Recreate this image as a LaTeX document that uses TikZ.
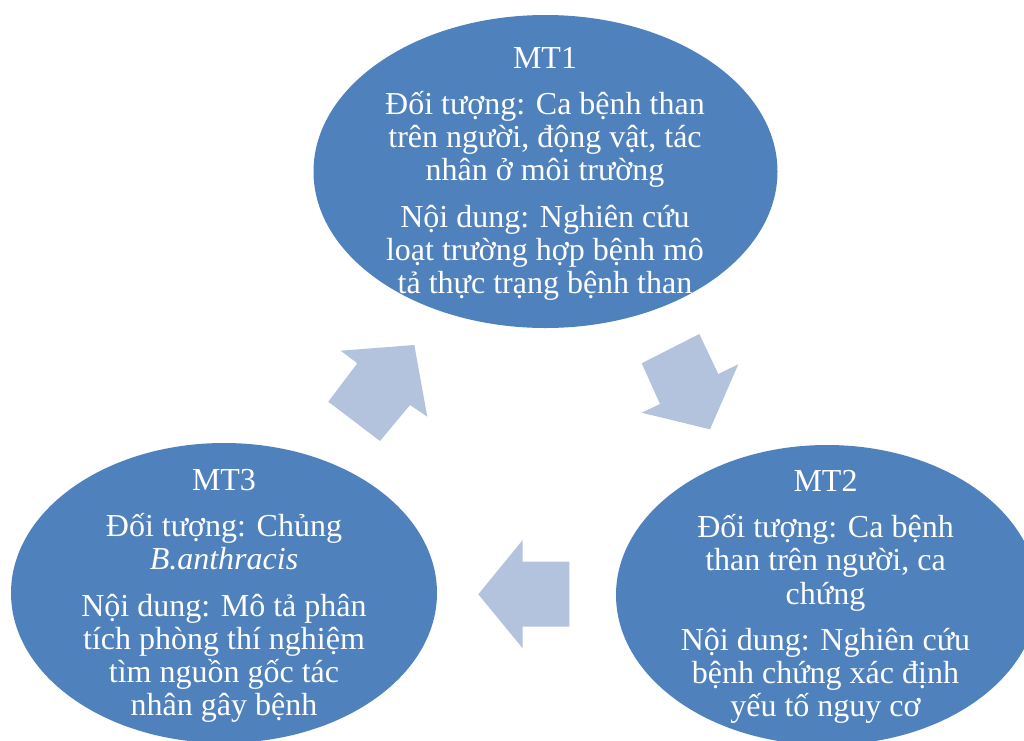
\documentclass[tikz,border=0pt]{standalone}
\usepackage{fontspec}
\setmainfont{Liberation Serif}
\usetikzlibrary{shapes.geometric}
\definecolor{blobblue}{HTML}{4F81BD}
\definecolor{arrowblue}{HTML}{B3C3DE}
\newcommand\blobtextfont{\fontsize{16}{16.6}\selectfont\setlength{\lineskiplimit}{-20pt}\setlength{\lineskip}{0pt}}
\begin{document}
\begin{tikzpicture}[x=0.5pt,y=-0.5pt,
  blob/.style={ellipse,fill=blobblue,draw=none,inner sep=0pt},
  txt/.style={text=white,align=center,inner sep=0pt,anchor=north,
    font=\blobtextfont},
  blockarrow/.style={fill=arrowblue,draw=none}]
\useasboundingbox (0,0) rectangle (1024,740);
\clip (0,0) rectangle (1024,740);
% ellipses
\node[blob,minimum width=232pt,minimum height=156.5pt] (mt1) at (545.5,171.5) {};
\node[blob,minimum width=213pt,minimum height=150pt] (mt3) at (224,593) {};
\node[blob,minimum width=211pt,minimum height=150pt] (mt2) at (827,595) {};
% block arrows
\fill[blockarrow] (414.3,345) -- (340.7,350.7) -- (357.3,363.3) -- (328.3,401.7)
  -- (380,441) -- (410,405) -- (427.3,416.7) -- cycle;
\fill[blockarrow] (641.7,363.3) -- (699.3,334) -- (718.3,374) -- (738.3,364.3)
  -- (710,429.3) -- (641.7,412.7) -- (660,404) -- cycle;
\fill[blockarrow] (478.3,594.3) -- (522.7,540) -- (522.7,561.7) -- (569.3,561.7)
  -- (569.3,626.7) -- (522.7,626.7) -- (522.7,648.3) -- cycle;
% texts
\node[txt] (t1) at (545,46.7) {MT1\\[6.5pt]
  Đối tượng: Ca bệnh than\\
  trên người, động vật, tác\\
  nhân ở môi trường\\[6.5pt]
  Nội dung: Nghiên cứu\\
  loạt trường hợp bệnh mô\\
  tả thực trạng bệnh than};
\node[txt] (t2) at (825.5,470) {MT2\\[6.5pt]
  Đối tượng: Ca bệnh\\
  than trên người, ca\\
  chứng\\[6.5pt]
  Nội dung: Nghiên cứu\\
  bệnh chứng xác định\\
  yếu tố nguy cơ};
\node[txt] (t3) at (224,469) {MT3\\[6.5pt]
  Đối tượng: Chủng\\
  \textit{B.anthracis}\\[6.5pt]
  Nội dung: Mô tả phân\\
  tích phòng thí nghiệm\\
  tìm nguồn gốc tác\\
  nhân gây bệnh};
\end{tikzpicture}
\end{document}
